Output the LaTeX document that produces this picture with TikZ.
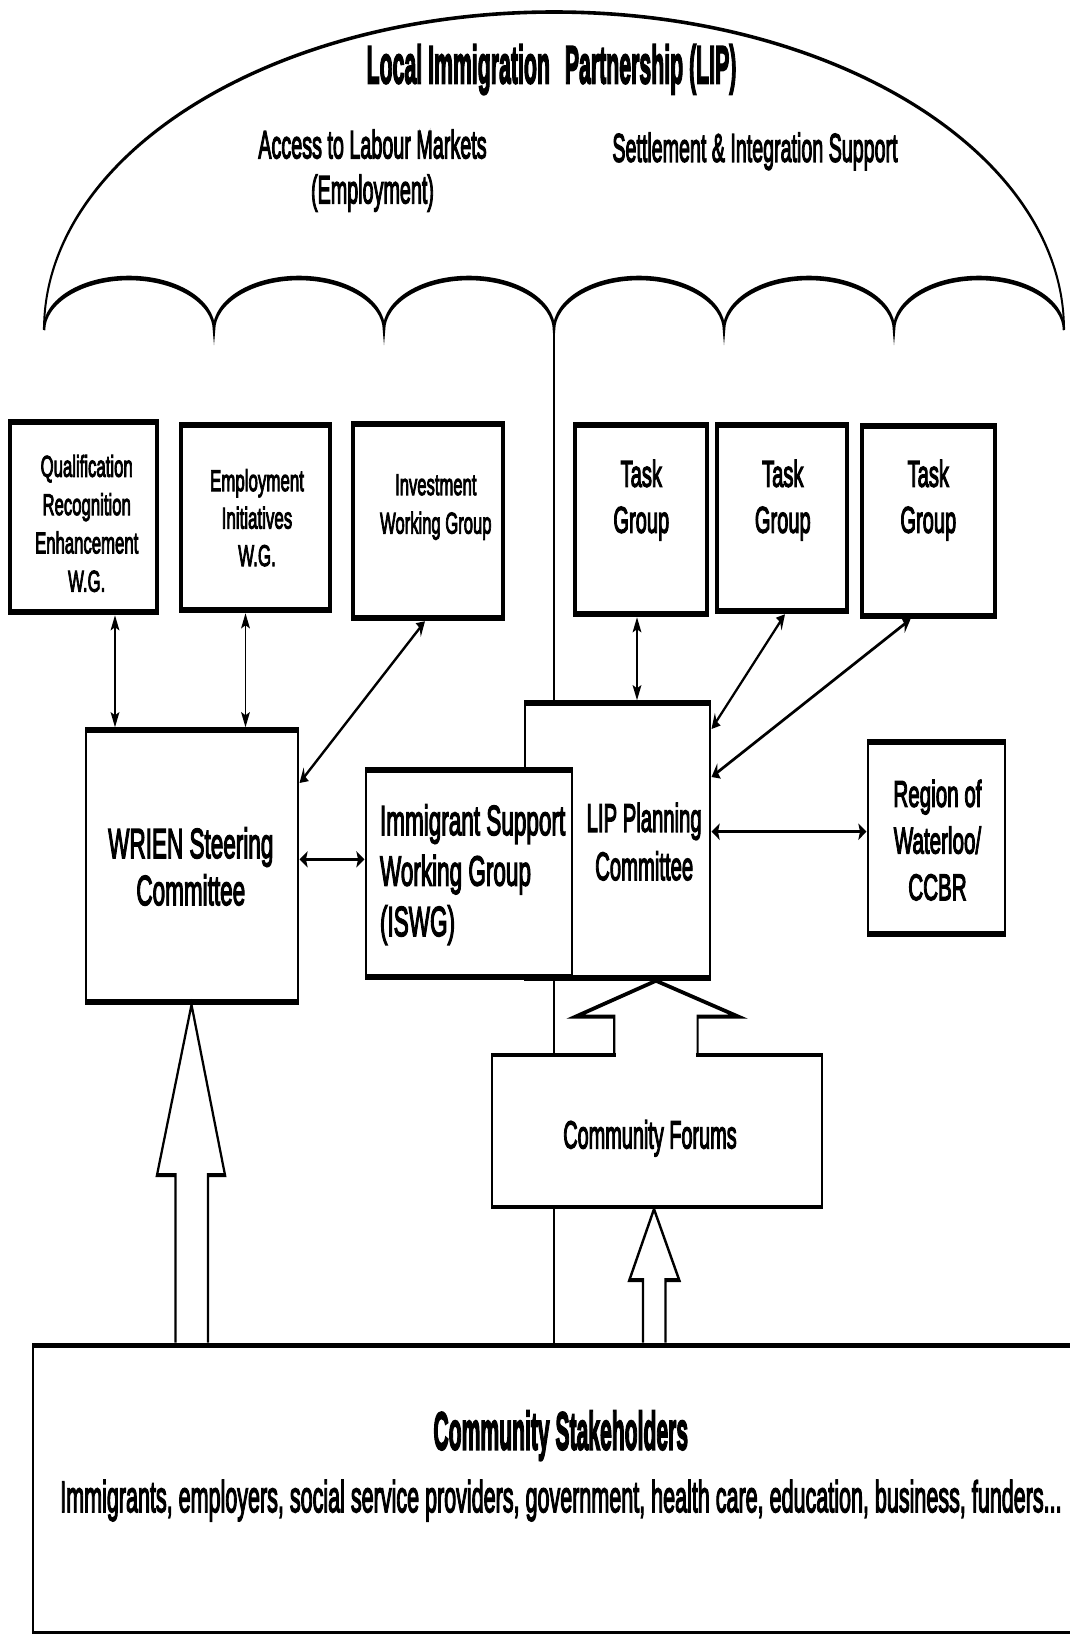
\documentclass[tikz,border=0pt]{standalone}
\usepackage{fontspec}
\setmainfont{Liberation Sans}[FakeBold=4]
\usepackage{graphicx}
\usetikzlibrary{arrows.meta,calc,fit}

\newcommand\tlines[2]{\scalebox{#1}[1]{\begin{tabular}[t]{@{}c@{}}#2\end{tabular}}}
\newcommand\tlinesl[2]{\scalebox{#1}[1]{\begin{tabular}[t]{@{}l@{}}#2\end{tabular}}}

\begin{document}
\begin{tikzpicture}[x=1pt,y=-1pt,
  boxbase/.style={draw, fill=white, inner sep=0pt},
  topbox/.style={boxbase, line width=6.5pt},
  midbox/.style={boxbase, line width=5.5pt},
  forumbox/.style={boxbase, line width=4.2pt},
  stakebox/.style={boxbase, line width=5pt},
  txt/.style={inner sep=0pt, outer sep=0pt, anchor=base},
  biarrow/.style={line width=3.2pt, {Stealth[length=15pt,width=16pt,inset=3pt]}-{Stealth[length=15pt,width=16pt,inset=3pt]}},
  blockarrow/.style={line width=4pt, fill=white, line join=miter},
  canopy/.style={line width=3.6pt},
  scallop/.style={line width=4.6pt},
  stemline/.style={line width=4pt}
]
\useasboundingbox (0,0) rectangle (1070,1634);
\fill[white] (0,0) rectangle (1070,1634);
\clip (0,0) rectangle (1070,1634);
\begin{scope}[transform canvas={xscale=0.54}, x=1.851852pt]
  % umbrella
  \draw[canopy] (44,330) arc[start angle=180, end angle=360, x radius=510, y radius=318];
  \draw[scallop] (44,330)
     arc[start angle=180, end angle=360, x radius=85, y radius=52]
     arc[start angle=180, end angle=360, x radius=85, y radius=52]
     arc[start angle=180, end angle=360, x radius=85, y radius=52]
     arc[start angle=180, end angle=360, x radius=85, y radius=52]
     arc[start angle=180, end angle=360, x radius=85, y radius=52]
     arc[start angle=180, end angle=360, x radius=85, y radius=52];
  \coordinate (stemtop) at (554,330);

  % top row boxes
  \node[topbox, fit={(10,422) (157,612)}] (qual) {};
  \node[topbox, fit={(181,425) (330,610)}] (emp) {};
  \node[topbox, fit={(353,424) (503,618)}] (inv) {};
  \node[topbox, fit={(575,425) (707,614)}] (tg1) {};
  \node[topbox, fit={(717,425) (847,611)}] (tg2) {};
  \node[topbox, fit={(862,426) (995,616)}] (tg3) {};

  % stakeholders box and stem
  \node[stakebox, fit={(33,1345) (1085,1633)}] (stake) {};
  \draw[stemline] (stemtop) -- (stake.north -| stemtop);

  % middle boxes
  \node[midbox, fit={(525,703) (710,978)}] (lip) {};
  \node[midbox, fit={(366,770) (572,977)}] (iswg) {};
  \node[midbox, fit={(86,730) (298,1002)}] (wrien) {};
  \node[midbox, fit={(868,742) (1005,934)}] (region) {};
  \node[forumbox, fit={(492,1055) (822,1207)}] (forums) {};

  % block arrows
  \draw[blockarrow] (stake.north -| 175.5,0) -- (175.5,1175) -- (157,1175)
     -- (wrien.south -| 191.5,0) -- (225,1175) -- (208,1175) -- (stake.north -| 208,0);
  \fill[white] (615.5,1052) rectangle (696.4,1058.5);
  \draw[blockarrow] (forums.north -| 614.3,0) -- (614.3,1016.7) -- (575.4,1016.7)
     -- (lip.south -| 656,0) -- (738.6,1016.7) -- (697.6,1016.7) -- (forums.north -| 697.6,0);
  \draw[blockarrow] (stake.north -| 643,0) -- (643,1280) -- (629.4,1280)
     -- (forums.south -| 654,0) -- (679.2,1280) -- (665.5,1280) -- (stake.north -| 665.5,0);

  % thin double arrows
  \draw[biarrow] (qual.south -| 115,0) -- (wrien.north -| 115,0);
  \draw[biarrow] (emp.south -| 245.5,0) -- (wrien.north -| 245.5,0);
  \draw[biarrow] (inv.south -| 425,0) -- (wrien.east |- 0,783);
  \draw[biarrow] (tg1.south -| 637,0) -- (lip.north -| 637,0);
  \draw[biarrow] (tg2.south -| 785,0) -- (lip.east |- 0,729);
  \draw[biarrow] (tg3.south -| 910.5,0) -- (lip.east |- 0,777);
  \draw[biarrow] (wrien.east |- 0,859.3) -- (iswg.west |- 0,859.3);
  \draw[biarrow] (lip.east |- 0,831.7) -- (region.west |- 0,831.7);

  % texts
  \node[txt, font=\bfseries\fontsize{53.5}{60}\selectfont] (tTitle) at (551.5,83.3)
     {\scalebox{0.737}[1]{Local Immigration\hspace{0.7em}Partnership (LIP)}};
  \node[txt, font=\fontsize{39.5}{45}\selectfont] (tAccess) at (372.5,158.3)
     {\tlines{0.926}{Access to Labour Markets\\(Employment)}};
  \node[txt, font=\fontsize{40}{46}\selectfont] (tSettle) at (755,161.7)
     {\scalebox{0.91}[1]{Settlement \& Integration Support}};
  \node[txt, font=\fontsize{30}{38.3}\selectfont] (tQual) at (86.7,476.7)
     {\tlines{1.033}{Qualification\\Recognition\\Enhancement\\W.G.}};
  \node[txt, font=\fontsize{30}{37.5}\selectfont] (tEmp) at (257,491)
     {\tlines{1.044}{Employment\\Initiatives\\W.G.}};
  \node[txt, font=\fontsize{30}{38.5}\selectfont] (tInv) at (435.8,495)
     {\tlines{1.026}{Investment\\Working Group}};
  \node[txt, font=\fontsize{37.2}{46}\selectfont] (tTg1) at (641.3,486.7)
     {\tlines{1.0}{Task\\Group}};
  \node[txt, font=\fontsize{37.2}{46}\selectfont] (tTg2) at (782.8,486.7)
     {\tlines{1.0}{Task\\Group}};
  \node[txt, font=\fontsize{37.2}{46}\selectfont] (tTg3) at (928.3,486.7)
     {\tlines{1.0}{Task\\Group}};
  \node[txt, font=\fontsize{42}{47}\selectfont] (tWrien) at (190.8,858)
     {\tlines{0.993}{WRIEN Steering\\Committee}};
  \node[txt, anchor=base west, font=\fontsize{42}{50.5}\selectfont] (tIswg) at (380,835)
     {\tlinesl{0.993}{Immigrant Support\\Working Group\\(ISWG)}};
  \node[txt, font=\fontsize{39.6}{48.3}\selectfont] (tLip) at (644.2,831.7)
     {\tlines{0.948}{LIP Planning\\Committee}};
  \node[txt, font=\fontsize{37}{46.7}\selectfont] (tRegion) at (937.5,806.7)
     {\tlines{1.031}{Region of\\Waterloo/\\CCBR}};
  \node[txt, font=\fontsize{39}{45}\selectfont] (tForums) at (650,1148.3)
     {\scalebox{0.944}[1]{Community Forums}};
  \node[txt, font=\bfseries\fontsize{53.5}{60}\selectfont] (tStake) at (560.8,1449.5)
     {\scalebox{0.731}[1]{Community Stakeholders}};
  \node[txt, font=\fontsize{44}{48}\selectfont] (tPeople) at (561,1512)
     {\scalebox{0.906}[1]{Immigrants, employers, social service providers, government, health care, education, business, funders...}};
\end{scope}
\end{tikzpicture}
\end{document}
